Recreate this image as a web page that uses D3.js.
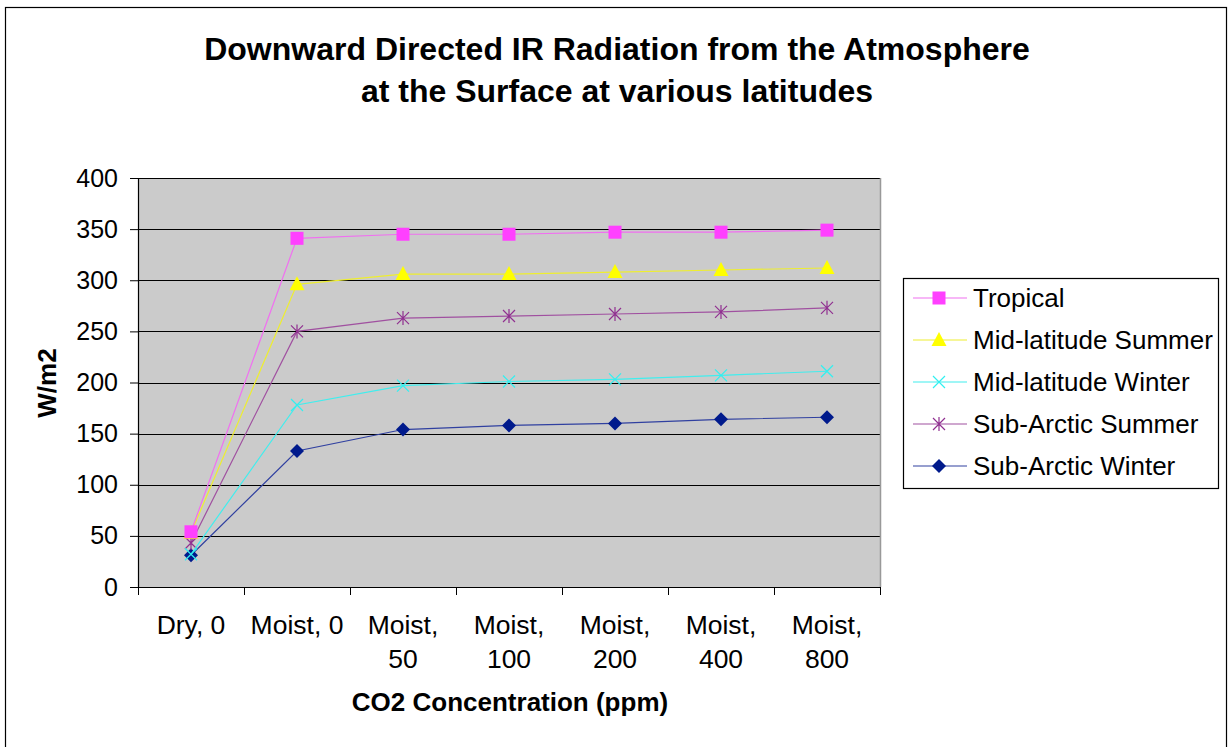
<!DOCTYPE html>
<html lang="en">
<head>
<meta charset="UTF-8">
<title>Downward Directed IR Radiation</title>
<script src="https://d3js.org/d3.v7.min.js"></script>
<style>
  body { margin: 0; background: #fff; }
  svg text { font-family: "Liberation Sans", Arial, sans-serif; fill: #000; }
</style>
</head>
<body>
<svg id="chart"></svg>
<script>
const categories = [["Dry, 0"], ["Moist, 0"], ["Moist,", "50"], ["Moist,", "100"], ["Moist,", "200"], ["Moist,", "400"], ["Moist,", "800"]];
const seriesNames = ["Tropical", "Mid-latitude Summer", "Mid-latitude Winter", "Sub-Arctic Summer", "Sub-Arctic Winter"];
const tropical = [54, 341, 345, 345, 347, 347, 349];
const midSummer = [53, 296, 306, 306, 308, 310, 312];
const midWinter = [32, 178, 197, 201, 203, 207, 211];
const subSummer = [43, 250, 263, 265, 267, 269, 273];
const subWinter = [31, 133, 154, 158, 160, 164, 166];
const yTicks = [0, 50, 100, 150, 200, 250, 300, 350, 400];

const width = 1228, height = 747;
const svg = d3.select("#chart").attr("width", width).attr("height", height);

// outer chart border
svg.append("rect").attr("x", 5.5).attr("y", 7.5).attr("width", 1221).attr("height", 745)
    .attr("fill", "#fff").attr("stroke", "#000").attr("stroke-width", 1.2);

const plot = { left: 138, top: 178, right: 880, bottom: 587 };

const x = d3.scaleBand().domain(d3.range(categories.length)).range([plot.left, plot.right]);
const y = d3.scaleLinear().domain([0, 400]).range([plot.bottom, plot.top]);

svg.append("rect").attr("x", plot.left).attr("y", plot.top)
    .attr("width", plot.right - plot.left).attr("height", plot.bottom - plot.top)
    .attr("fill", "#cbcbcb");

// gridlines
svg.append("g").selectAll("line").data(yTicks.filter(d => d > 0)).enter().append("line")
    .attr("x1", plot.left).attr("x2", plot.right)
    .attr("y1", d => Math.round(y(d)) + 0.5).attr("y2", d => Math.round(y(d)) + 0.5)
    .attr("stroke", "#000").attr("stroke-width", 1.2);

// right edge of plot
svg.append("line").attr("x1", plot.right + 0.5).attr("x2", plot.right + 0.5)
    .attr("y1", plot.top).attr("y2", plot.bottom).attr("stroke", "#999").attr("stroke-width", 1.5);

// y axis
const yAxis = d3.axisLeft(y).tickValues(yTicks).tickSize(8).tickSizeOuter(0).tickPadding(12);
const gy = svg.append("g").attr("transform", `translate(${plot.left},0)`).call(yAxis);
gy.selectAll("text").style("font-size", "25px").attr("font-family", null);
gy.select(".domain").attr("stroke", "#000").attr("stroke-width", 1.2);

// x axis (ticks at band boundaries)
const gx = svg.append("g");
gx.append("line").attr("x1", plot.left).attr("x2", plot.right)
    .attr("y1", plot.bottom + 0.5).attr("y2", plot.bottom + 0.5).attr("stroke", "#000").attr("stroke-width", 1.2);
gx.selectAll("line.tick").data(d3.range(categories.length + 1)).enter().append("line")
    .attr("class", "tick")
    .attr("x1", i => Math.round(plot.left + i * x.step()) + 0.5)
    .attr("x2", i => Math.round(plot.left + i * x.step()) + 0.5)
    .attr("y1", plot.bottom).attr("y2", plot.bottom + 8)
    .attr("stroke", "#000");
gx.selectAll("text.cat").data(categories).enter().append("text")
    .attr("class", "cat")
    .attr("text-anchor", "middle")
    .style("font-size", "26.5px")
    .attr("transform", (d, i) => `translate(${x(i) + x.bandwidth() / 2},0)`)
    .each(function (d) {
        d3.select(this).selectAll("tspan").data(d).enter().append("tspan")
            .attr("x", 0).attr("y", (t, j) => 634 + j * 34).text(t => t);
    });

// axis titles
svg.append("text").attr("x", 510).attr("y", 711).attr("text-anchor", "middle")
    .style("font-size", "26px").style("font-weight", "bold").text("CO2 Concentration (ppm)");
svg.append("text").attr("transform", "translate(56,383) rotate(-90)").attr("text-anchor", "middle")
    .style("font-size", "26px").style("font-weight", "bold").text("W/m2");

// title
const title = svg.append("text").attr("text-anchor", "middle").style("font-size", "32px").style("font-weight", "bold");
title.append("tspan").attr("x", 617).attr("y", 60).text("Downward Directed IR Radiation from the Atmosphere");
title.append("tspan").attr("x", 617).attr("y", 102).text("at the Surface at various latitudes");

const series = [
    { name: seriesNames[0], values: tropical, line: "#f070f0", fill: "#ff40ff", marker: "square" },
    { name: seriesNames[1], values: midSummer, line: "#eeee30", fill: "#ffff00", marker: "triangle" },
    { name: seriesNames[2], values: midWinter, line: "#40eeee", fill: "#30f0f0", marker: "x" },
    { name: seriesNames[3], values: subSummer, line: "#a050a0", fill: "#903090", marker: "star" },
    { name: seriesNames[4], values: subWinter, line: "#3040a0", fill: "#001a8c", marker: "diamond" }
];

function drawMarker(g, type, cx, cy, s) {
    if (type === "square") {
        g.append("rect").attr("x", cx - 6.5).attr("y", cy - 6.5).attr("width", 13).attr("height", 13).attr("fill", s.fill);
    } else if (type === "triangle") {
        g.append("path").attr("d", `M${cx},${cy - 8}L${cx + 7.5},${cy + 6}L${cx - 7.5},${cy + 6}Z`).attr("fill", s.fill);
    } else if (type === "diamond") {
        g.append("path").attr("d", `M${cx},${cy - 7}L${cx + 7},${cy}L${cx},${cy + 7}L${cx - 7},${cy}Z`).attr("fill", s.fill);
    } else if (type === "x") {
        g.append("path").attr("d", `M${cx - 6},${cy - 6}L${cx + 6},${cy + 6}M${cx - 6},${cy + 6}L${cx + 6},${cy - 6}`)
            .attr("stroke", s.fill).attr("stroke-width", 1.2);
    } else if (type === "star") {
        g.append("path").attr("d", `M${cx - 6},${cy - 6}L${cx + 6},${cy + 6}M${cx - 6},${cy + 6}L${cx + 6},${cy - 6}M${cx},${cy - 7}L${cx},${cy + 7}`)
            .attr("stroke", s.fill).attr("stroke-width", 1.2);
    }
}

const line = d3.line().x((d, i) => x(i) + x.bandwidth() / 2).y(d => y(d));

// draw series in reverse so Tropical sits on top
series.slice().reverse().forEach(s => {
    const g = svg.append("g");
    g.append("path").datum(s.values).attr("d", line).attr("fill", "none")
        .attr("stroke", s.line).attr("stroke-width", 1.2);
    s.values.forEach((v, i) => drawMarker(g, s.marker, x(i) + x.bandwidth() / 2, y(v), s));
});

// legend
const legend = svg.append("g");
legend.append("rect").attr("x", 903.5).attr("y", 278.5).attr("width", 315).attr("height", 210)
    .attr("fill", "#fff").attr("stroke", "#000").attr("stroke-width", 1.2);
series.forEach((s, i) => {
    const ly = 298 + i * 42;
    const g = legend.append("g");
    g.append("line").attr("x1", 913).attr("x2", 967).attr("y1", ly).attr("y2", ly)
        .attr("stroke", s.line).attr("stroke-width", 1.2);
    drawMarker(g, s.marker, 939, ly, s);
    g.append("text").attr("x", 973).attr("y", ly + 9).style("font-size", "26px").text(s.name);
});
</script>
</body>
</html>
